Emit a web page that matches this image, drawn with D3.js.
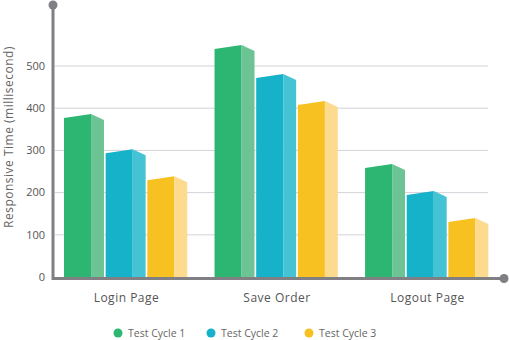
<!DOCTYPE html>
<html>
<head>
<meta charset="utf-8">
<script src="https://cdn.jsdelivr.net/npm/d3@7"></script>
<style>
  body { margin: 0; background: #fff; }
  text { font-family: "Open Sans", sans-serif; }
</style>
</head>
<body>
<svg width="509" height="340"></svg>
<script>
var categories = ['Login Page', 'Save Order', 'Logout Page'];
var series = ['Test Cycle 1', 'Test Cycle 2', 'Test Cycle 3'];
var cycle1 = [386, 550, 268];
var cycle2 = [303, 481, 204];
var cycle3 = [239, 417, 140];
var tickValues = [0, 100, 200, 300, 400, 500];

var frontColors = ['#2db672', '#16b2c9', '#f7c121'];
var sideColors = ['#6cc494', '#43c3d3', '#fddb8e'];

var svg = d3.select('svg');

var y = d3.scaleLinear().domain([0, 500]).range([277, 66]);
var x0 = d3.scaleBand().domain(categories).range([64, 490]).paddingInner(0.17).paddingOuter(0);
var x1 = d3.scaleBand().domain(series).range([0, x0.bandwidth()]);

var rows = [];
categories.forEach(function(c, i){
    [cycle1, cycle2, cycle3].forEach(function(arr, j){
        rows.push({cat: c, s: series[j], v: arr[i], k: j});
    });
});

// gridlines
svg.selectAll('line.grid')
    .data(tickValues.filter(function(d){ return d > 0; }))
    .enter()
    .append('line')
    .attr('x1', 55)
    .attr('x2', 488)
    .attr('y1', function(d){ return y(d); })
    .attr('y2', function(d){ return y(d); })
    .attr('stroke', '#d3d3da')
    .attr('stroke-width', 1);

// tick labels
svg.selectAll('text.tick')
    .data(tickValues)
    .enter()
    .append('text')
    .attr('x', 45)
    .attr('y', function(d){ return y(d); })
    .attr('dy', '0.35em')
    .attr('text-anchor', 'end')
    .attr('font-size', 11)
    .attr('fill', '#555')
    .text(function(d){ return d; });

var slot = x1.bandwidth();
var fw = slot * 0.65, sw = slot * 0.31;

var bars = svg.selectAll('g.bar')
    .data(rows)
    .enter()
    .append('g')
    .attr('transform', function(d){ return 'translate(' + (x0(d.cat) + x1(d.s)) + ',0)'; });

bars.append('path')
    .attr('d', function(d){
        var t = y(d.v), b = y(0);
        return 'M0,' + (t + 4) + 'L' + fw + ',' + t + 'L' + fw + ',' + b + 'L0,' + b + 'Z';
    })
    .attr('fill', function(d){ return frontColors[d.k]; });

bars.append('path')
    .attr('d', function(d){
        var t = y(d.v), b = y(0);
        return 'M' + fw + ',' + t + 'L' + (fw + sw) + ',' + (t + 6) + 'L' + (fw + sw) + ',' + b + 'L' + fw + ',' + b + 'Z';
    })
    .attr('fill', function(d){ return sideColors[d.k]; });

// axes lines with end dots
svg.append('line')
    .attr('x1', 53).attr('x2', 53)
    .attr('y1', 5).attr('y2', 280)
    .attr('stroke', '#808084').attr('stroke-width', 3);
svg.append('line')
    .attr('x1', 52).attr('x2', 504)
    .attr('y1', 278.5).attr('y2', 278.5)
    .attr('stroke', '#808084').attr('stroke-width', 3);
svg.append('circle').attr('cx', 53).attr('cy', 5).attr('r', 4.5).attr('fill', '#808084');
svg.append('circle').attr('cx', 504).attr('cy', 278.5).attr('r', 4.5).attr('fill', '#808084');

// category labels
svg.selectAll('text.cat')
    .data(categories)
    .enter()
    .append('text')
    .attr('x', function(d){ return x0(d) + x0.bandwidth() / 2; })
    .attr('y', 302)
    .attr('text-anchor', 'middle')
    .attr('font-size', 12)
    .attr('letter-spacing', 0.5)
    .attr('fill', '#555')
    .text(function(d){ return d; });

// y title
svg.append('text')
    .attr('transform', 'translate(13,137) rotate(-90)')
    .attr('text-anchor', 'middle')
    .attr('font-size', 12)
    .attr('letter-spacing', 0.5)
    .attr('fill', '#666')
    .text('Responsive Time (millisecond)');

// legend
var legendX = [118, 211, 309];
var lg = svg.selectAll('g.legend')
    .data(series)
    .enter()
    .append('g')
    .attr('transform', function(d, i){ return 'translate(' + legendX[i] + ',333)'; });
lg.append('circle').attr('r', 4.5).attr('fill', function(d, i){ return frontColors[i]; });
lg.append('text')
    .attr('x', 10)
    .attr('dy', '0.35em')
    .attr('font-size', 10.5)
    .attr('fill', '#666')
    .text(function(d){ return d; });
</script>
</body>
</html>
